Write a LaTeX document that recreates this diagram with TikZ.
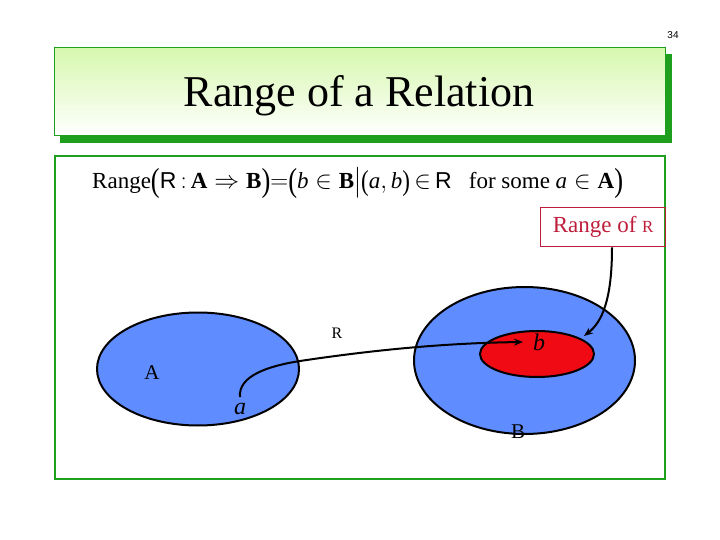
\documentclass[tikz,border=0pt]{standalone}
\usepackage{fontspec}
\setmainfont{Liberation Serif}
\setsansfont{Liberation Sans}
\usetikzlibrary{shapes.geometric,arrows.meta}
\definecolor{setblue}{RGB}{95,140,255}
\definecolor{setred}{RGB}{240,10,20}
\definecolor{framegreen}{RGB}{30,160,30}
\definecolor{titlegreen}{RGB}{215,248,175}
\definecolor{rangered}{RGB}{190,30,60}
\tikzset{
  setshape/.style={ellipse,draw=black,line width=2pt,inner sep=0pt},
  conn/.style={line width=2pt,-{Stealth[length=9pt,width=7pt]}},
  lbl/.style={inner sep=0pt,anchor=center}
}
\newcommand{\rsym}{\textsf{R}}
\newcommand{\bigparen}[1]{\raisebox{-0.17em}{\scalebox{1.15}[1.45]{#1}}}
\newcommand{\midparen}[1]{\raisebox{-0.1em}{\scalebox{1}[1.25]{#1}}}
\begin{document}
\begin{tikzpicture}[x=1pt,y=-1pt]
\useasboundingbox (0,0) rectangle (720,540);
% page number
\node[lbl,font=\sffamily\fontsize{10}{12}\selectfont] (pnum) at (673,35) {34};
% title box with shadow
\fill[framegreen] (60,54) rectangle (672,143);
\shade[top color=titlegreen,bottom color=white,draw=framegreen,line width=1pt] (54,48) rectangle (665,136);
\node[lbl,font=\fontsize{44}{46}\selectfont] (title) at (359,96) {Range of a Relation};
% content frame
\draw[framegreen,line width=2pt] (55,156) rectangle (665,479);
% formula
\node[lbl,anchor=west,font=\fontsize{23}{26}\selectfont] (formula) at (92,183)
  {Range\bigparen{(}\rsym$\,{:}\,$\textbf{A}$\;\Rightarrow\;$\textbf{B}\bigparen{)}$=$\bigparen{(}\textit{b}$\;\in\;$\textbf{B}\midparen{$|$}\midparen{(}\textit{a}$,$\,\textit{b}\midparen{)}$\,\in\,$\rsym\ \ \ for some \textit{a}$\;\in\;$\textbf{A}\bigparen{)}};
% Range of R box
\node[draw=rangered,line width=1.3pt,text=rangered,minimum width=125pt,minimum height=39pt,font=\fontsize{23}{24}\selectfont,anchor=north west] (rbox) at (540,207) {Range of {\fontsize{17}{18}\selectfont R}};
% sets
\node[setshape,fill=setblue,minimum width=202pt,minimum height=113pt] (setA) at (198,369) {};
\node[setshape,fill=setblue,minimum width=221pt,minimum height=147pt] (setB) at (524.5,360.5) {};
\node[setshape,fill=setred,minimum width=114pt,minimum height=46pt] (range) at (537,354) {};
% labels
\node[lbl,font=\fontsize{21}{24}\selectfont] (lA) at (152,373) {A};
\node[lbl,font=\fontsize{21}{24}\selectfont] (lB) at (518,432) {B};
\node[lbl,font=\fontsize{24}{26}\selectfont\itshape] (la) at (240,409) {a};
\node[lbl,font=\fontsize{24}{26}\selectfont\itshape] (lb) at (539,342) {b};
\node[lbl,font=\fontsize{16}{18}\selectfont] (lR) at (337,333) {R};
% connectors
\coordinate (astart) at (240,397);
\coordinate (aend) at (523,342);
\coordinate (rstart) at (612,238);
\coordinate (rend) at (584,336);
\draw[conn] (astart) .. controls (238,376) and (268,366) .. (300,361) .. controls (380,349) and (450,343) .. (aend);
\draw[conn] (rbox.south -| rstart) .. controls (612,300) and (602,322) .. (rend);
\end{tikzpicture}
\end{document}
